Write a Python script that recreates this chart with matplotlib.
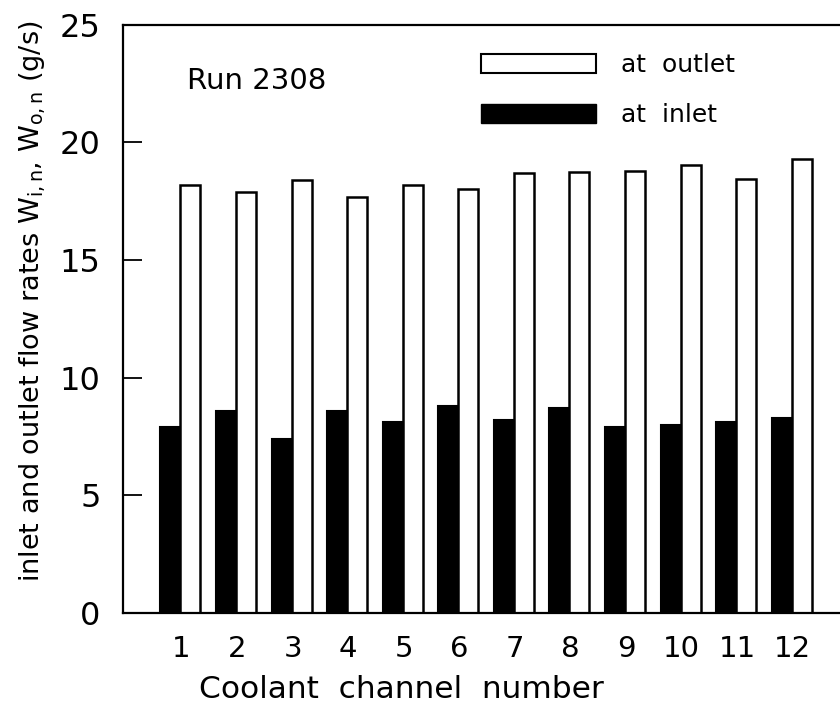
import matplotlib
matplotlib.use('Agg')
from matplotlib import pyplot as plt
from matplotlib.patches import Patch
import numpy as np

plt.rcParams['font.family'] = ['DejaVu Sans']
plt.rcParams['mathtext.fontset'] = 'dejavusans'

# flow rates per coolant channel, run 2308 (g/s)
channels = np.arange(1, 13)
inlet = [7.9, 8.6, 7.4, 8.6, 8.1, 8.8, 8.2, 8.7, 7.9, 8.0, 8.1, 8.3]
outlet = [18.2, 17.9, 18.4, 17.7, 18.2, 18.0, 18.7, 18.75, 18.8, 19.05, 18.45, 19.3]

def main():
	fig = plt.figure(figsize=(8.4, 7.28), dpi=100)
	ax = fig.add_axes([0.146, 0.158, 0.854, 0.808])

	ax.bar(channels - 0.18, inlet, width=0.40, color='black', edgecolor='black', linewidth=1.5)
	ax.bar(channels + 0.16, outlet, width=0.36, color='white', edgecolor='black', linewidth=1.8)

	ax.set_xlim(-0.06, 12.85)
	ax.set_ylim(0, 25)
	ax.set_xticks(channels)
	ax.set_yticks([0, 5, 10, 15, 20, 25])
	ax.tick_params(axis='x', length=0, labelsize=21, pad=16)
	ax.tick_params(axis='y', direction='in', length=14, width=1.3, labelsize=23, pad=16)
	ax.spines['right'].set_visible(False)
	for s in ['left', 'top', 'bottom']:
		ax.spines[s].set_linewidth(1.6)

	ax.set_xlabel('Coolant  channel  number', fontsize=22.5)
	ax.xaxis.set_label_coords(0.389, -0.105)
	ax.set_ylabel(r'inlet and outlet flow rates $\mathregular{W_{i,n}}$, $\mathregular{W_{o,n}}$ (g/s)',
		fontsize=19.5)
	ax.yaxis.set_label_coords(-0.104, 0.53)

	ax.text(0.09, 0.905, 'Run 2308', transform=ax.transAxes, fontsize=21, va='center')

	handles = [Patch(facecolor='white', edgecolor='black', linewidth=1.5),
		Patch(facecolor='black', edgecolor='black')]
	ax.legend(handles, ['at  outlet', 'at  inlet'], loc='upper left', bbox_to_anchor=(0.468, 0.99),
		frameon=False, fontsize=18, handlelength=4.6, handleheight=0.8, labelspacing=1.05, handletextpad=1.0)

	fig.savefig('out.png', dpi=100)
	plt.close(fig)

main()
